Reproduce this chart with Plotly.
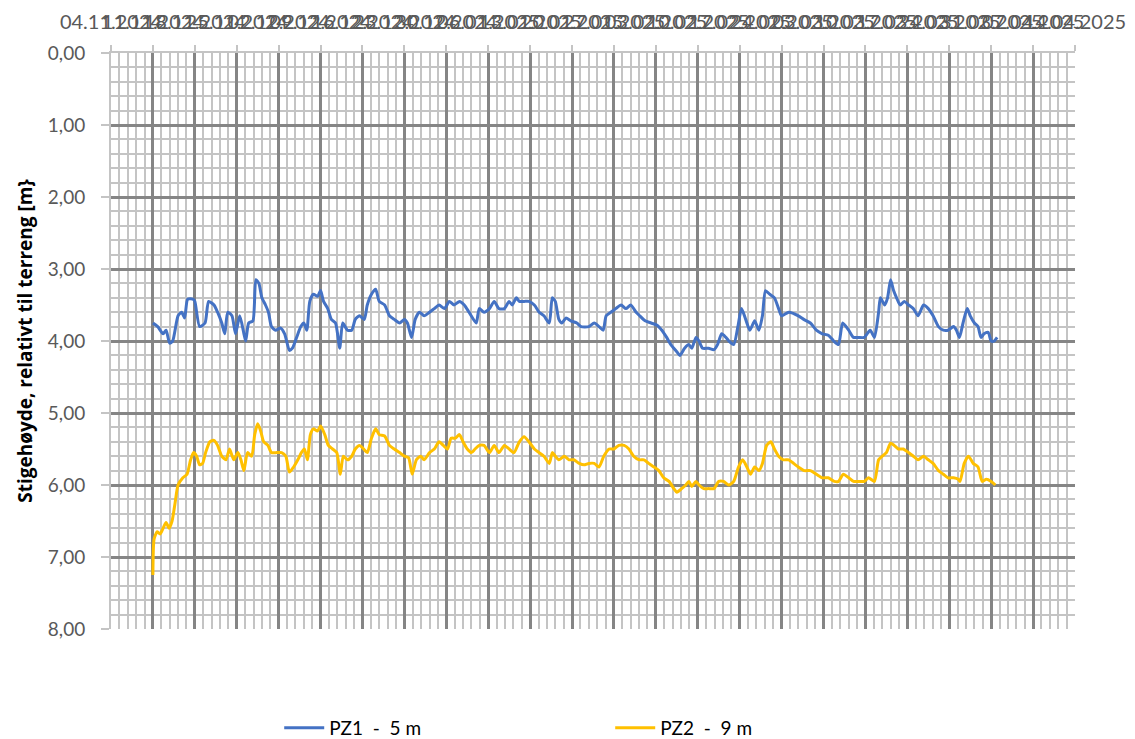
import pandas as pd
import plotly.graph_objects as go

# Measurement times as elapsed days from the first grid date (04.11.2024)
start = pd.Timestamp("2024-11-04")

pz1_days = [7.0, 7.8, 8.7, 9.2, 9.8, 10.3, 11.2, 11.8, 12.3, 12.8, 13.7, 14.0, 14.8, 15.7, 16.3, 17.2,
            17.8, 18.5, 19.0, 19.5, 20.2, 20.8, 21.5, 22.2, 22.5, 23.0, 23.7, 24.2, 24.7, 25.2, 25.8,
            26.3, 26.8, 27.5, 28.3, 29.0, 29.8, 30.3, 31.0, 31.7, 32.2, 32.7, 33.2, 33.8, 34.5, 35.0,
            35.5, 36.2, 36.8, 37.5, 38.2, 38.7, 39.5, 40.2, 40.8, 41.5, 42.3, 42.8, 43.5, 44.2, 44.8,
            45.7, 46.5, 47.3, 48.2, 49.0, 49.5, 50.2, 50.8, 51.5, 52.3, 53.2, 54.0, 54.8, 55.7, 56.5,
            57.3, 58.2, 59.0, 59.8, 61.0, 61.5, 62.3, 63.2, 64.0, 64.8, 65.7, 66.5, 67.0, 67.7, 68.2,
            69.0, 69.8, 70.7, 71.5, 72.3, 73.2, 73.7, 74.2, 74.8, 75.3, 76.0, 76.8, 77.8, 78.5, 79.8,
            80.7, 81.5, 82.2, 82.7, 83.5, 84.3, 85.2, 86.0, 86.8, 87.7, 88.3, 89.2, 90.2, 91.2, 92.0,
            92.8, 93.5, 94.5, 95.0, 95.8, 96.5, 97.0, 97.7, 98.2, 98.8, 99.8, 100.7, 101.3, 102.0,
            102.7, 103.2, 104.0, 104.7, 105.3, 106.0, 106.7, 107.5, 108.2, 108.8, 109.3, 110.0, 110.8,
            111.5, 112.0, 113.2, 114.8, 115.7, 116.8, 117.8, 118.8, 119.8, 120.7, 121.5, 122.2, 123.2,
            124.0, 124.8, 125.8, 126.8, 127.5, 128.2, 128.5, 129.2, 129.7, 130.2, 130.7, 131.2, 131.8,
            132.5, 133.2, 134.0, 134.8, 135.7, 136.5, 137.3, 138.2, 139.0, 139.8, 140.7, 141.2, 141.7,
            142.3, 143.0, 143.5, 144.2, 144.8, 145.3, 145.8, 146.5, 147.0, 147.5, 148.0]
pz1_level = [3.75, 3.8, 3.9, 3.85, 4.03, 4.0, 3.65, 3.6, 3.68, 3.42, 3.42, 3.45, 3.8, 3.75, 3.45, 3.5,
             3.6, 3.75, 3.9, 3.6, 3.65, 3.9, 3.65, 3.9, 4.0, 3.75, 3.72, 3.15, 3.2, 3.4, 3.5,
             3.6, 3.8, 3.85, 3.82, 3.9, 4.13, 4.1, 3.95, 3.8, 3.75, 3.85, 3.45, 3.35, 3.38, 3.3,
             3.45, 3.55, 3.7, 3.75, 4.1, 3.75, 3.85, 3.85, 3.7, 3.65, 3.7, 3.5, 3.35, 3.28, 3.45,
             3.5, 3.65, 3.7, 3.75, 3.7, 3.75, 3.95, 3.7, 3.6, 3.65, 3.6, 3.55, 3.5, 3.55, 3.45,
             3.5, 3.45, 3.5, 3.6, 3.75, 3.55, 3.6, 3.55, 3.45, 3.55, 3.55, 3.45, 3.5, 3.4, 3.45,
             3.45, 3.45, 3.5, 3.6, 3.65, 3.75, 3.4, 3.45, 3.7, 3.75, 3.68, 3.72, 3.75, 3.8, 3.8,
             3.75, 3.8, 3.85, 3.65, 3.6, 3.55, 3.5, 3.55, 3.5, 3.6, 3.65, 3.72, 3.75, 3.78, 3.85,
             3.95, 4.05, 4.15, 4.2, 4.1, 4.05, 4.1, 3.95, 4.0, 4.1, 4.1, 4.12, 4.05, 3.9,
             3.95, 4.0, 4.05, 3.8, 3.55, 3.7, 3.85, 3.72, 3.85, 3.65, 3.3, 3.35, 3.4,
             3.55, 3.65, 3.6, 3.65, 3.7, 3.75, 3.85, 3.9, 3.92, 4.0, 4.05, 3.75, 3.85,
             3.95, 3.95, 3.95, 3.85, 3.95, 3.6, 3.4, 3.5, 3.4, 3.15, 3.3, 3.4, 3.5,
             3.45, 3.5, 3.55, 3.65, 3.5, 3.55, 3.65, 3.8, 3.85, 3.85, 3.8, 3.85, 3.95,
             3.75, 3.55, 3.65, 3.75, 3.8, 3.95, 3.9, 3.88, 4.0, 4.0, 3.95]

pz2_days = [7.0, 7.2, 7.7, 8.2, 8.7, 9.2, 9.7, 10.2, 10.7, 11.2, 12.0, 12.7, 13.3, 13.8, 14.3, 14.8,
            15.3, 15.8, 16.5, 17.2, 17.8, 18.5, 19.2, 19.8, 20.5, 21.2, 21.7, 22.2, 22.8, 23.5, 24.0,
            24.5, 25.0, 25.5, 26.2, 26.8, 27.7, 28.5, 29.2, 29.8, 30.5, 31.2, 31.8, 32.3, 32.8, 33.3,
            33.8, 34.5, 35.0, 35.7, 36.3, 37.0, 37.7, 38.3, 38.8, 39.5, 40.2, 40.8, 41.5, 42.2, 42.8,
            43.5, 44.2, 44.8, 45.7, 46.5, 47.3, 48.2, 49.0, 49.7, 50.3, 51.0, 51.7, 52.3, 53.2, 54.0,
            54.8, 55.5, 56.2, 56.8, 57.5, 58.2, 58.8, 59.5, 60.2, 60.8, 61.5, 62.3, 63.2, 64.0, 64.8,
            65.7, 66.5, 67.3, 68.2, 69.0, 69.8, 70.7, 71.5, 72.3, 73.2, 73.7, 74.2, 74.8, 75.7, 76.5,
            77.3, 78.2, 79.0, 79.8, 80.7, 81.5, 82.3, 83.2, 84.0, 84.8, 85.7, 86.5, 87.3, 88.2, 89.0,
            89.8, 90.7, 91.5, 92.3, 93.2, 94.0, 94.5, 95.3, 96.0, 96.5, 97.0, 97.7, 98.2, 99.0, 99.8,
            100.7, 101.5, 102.3, 103.2, 104.0, 104.8, 105.5, 106.2, 106.8, 107.5, 108.2, 108.8, 109.5,
            110.2, 110.8, 111.5, 112.3, 113.2, 114.0, 114.8, 115.8, 116.8, 117.8, 118.8, 119.8, 120.8,
            121.5, 122.3, 123.2, 124.0, 124.8, 125.8, 126.5, 127.5, 128.2, 128.8, 129.5, 130.2, 130.8,
            131.5, 132.3, 133.2, 134.0, 134.8, 135.7, 136.5, 137.3, 138.2, 139.0, 139.8, 140.7, 141.5,
            141.8, 142.5, 143.2, 144.0, 144.8, 145.5, 146.2, 147.0, 147.7]
pz2_level = [7.25, 6.75, 6.65, 6.68, 6.6, 6.52, 6.6, 6.5, 6.25, 6.0, 5.9, 5.85, 5.65, 5.55, 5.6, 5.72,
             5.7, 5.55, 5.4, 5.38, 5.45, 5.6, 5.65, 5.5, 5.65, 5.55, 5.65, 5.8, 5.55, 5.6, 5.3,
             5.15, 5.25, 5.4, 5.45, 5.55, 5.55, 5.55, 5.6, 5.82, 5.75, 5.65, 5.55, 5.5, 5.65, 5.3,
             5.22, 5.25, 5.18, 5.3, 5.45, 5.5, 5.55, 5.85, 5.6, 5.65, 5.6, 5.5, 5.45, 5.5, 5.55,
             5.35, 5.22, 5.3, 5.32, 5.45, 5.5, 5.55, 5.6, 5.62, 5.85, 5.65, 5.6, 5.65, 5.55, 5.5,
             5.4, 5.45, 5.5, 5.35, 5.35, 5.3, 5.4, 5.5, 5.55, 5.5, 5.45, 5.45, 5.55, 5.45, 5.55,
             5.45, 5.5, 5.55, 5.4, 5.33, 5.4, 5.5, 5.55, 5.6, 5.7, 5.55, 5.6, 5.65, 5.6, 5.65,
             5.65, 5.7, 5.72, 5.7, 5.7, 5.75, 5.6, 5.5, 5.5, 5.45, 5.45, 5.5, 5.6, 5.65, 5.65,
             5.7, 5.75, 5.8, 5.9, 5.95, 6.05, 6.1, 6.05, 6.0, 5.95, 6.02, 5.95, 6.0, 6.05, 6.05,
             6.05, 5.95, 5.95, 6.0, 5.95, 5.75, 5.65, 5.75, 5.85, 5.75, 5.8, 5.7, 5.45,
             5.4, 5.5, 5.6, 5.65, 5.65, 5.7, 5.75, 5.8, 5.8, 5.85, 5.9, 5.9, 5.95,
             5.95, 5.85, 5.9, 5.95, 5.95, 5.95, 5.9, 5.95, 5.65, 5.6, 5.55, 5.42, 5.45,
             5.5, 5.5, 5.55, 5.6, 5.65, 5.6, 5.65, 5.7, 5.8, 5.85, 5.9, 5.9, 5.92,
             5.95, 5.7, 5.6, 5.7, 5.75, 5.95, 5.92, 5.95, 6.0]

series_names = ["PZ1  -  5 m", "PZ2  -  9 m"]
series_colors = ["#4472C4", "#FFC000"]

axis_start = start
axis_end = pd.Timestamp("2025-04-14")
y_title = "Stigehøyde, relativt til terreng [m}"

DAY_MS = 86400000
font_family = "Lato, 'Open Sans', sans-serif"
tick_color = "#595959"
major_grid = "#858585"
minor_grid = "#c4c4c4"

fig = go.Figure()
for name, color, days, level in [
    (series_names[0], series_colors[0], pz1_days, pz1_level),
    (series_names[1], series_colors[1], pz2_days, pz2_level),
]:
    fig.add_trace(go.Scatter(
        x=start + pd.to_timedelta(days, unit="D"),
        y=level,
        mode="lines",
        name=name,
        line=dict(color=color, width=3, shape="spline", smoothing=0.6),
    ))

fig.update_layout(
    width=1135,
    height=739,
    margin=dict(l=111, r=60, t=53, b=110, autoexpand=False),
    paper_bgcolor="white",
    plot_bgcolor="white",
    separators=", ",
    font=dict(family=font_family, color=tick_color, size=17),
    showlegend=True,
    legend=dict(
        orientation="h",
        xref="container", x=0.246, xanchor="left",
        yref="container", y=0.0149, yanchor="middle",
        font=dict(size=19, color="#000000"),
        entrywidth=276, entrywidthmode="pixels",
        itemwidth=40,
        bgcolor="rgba(0,0,0,0)",
    ),
)

fig.update_xaxes(
    type="date",
    side="top",
    range=[axis_start, axis_end],
    tick0=axis_start,
    dtick=7 * DAY_MS,
    tickformat="%d.%m.%Y",
    tickangle=0,
    ticks="outside",
    ticklen=6,
    tickcolor=minor_grid,
    tickwidth=1.5,
    ticklabelstandoff=8,
    showline=True,
    linecolor=minor_grid,
    linewidth=2,
    showgrid=True,
    gridcolor=major_grid,
    gridwidth=2.5,
    zeroline=False,
    tickfont=dict(size=20, color=tick_color),
    minor=dict(
        tick0=axis_start,
        dtick=7 * DAY_MS / 5,
        showgrid=True,
        gridcolor=minor_grid,
        gridwidth=1.5,
        ticks="",
    ),
)

fig.update_yaxes(
    range=[8, 0],
    dtick=1,
    tick0=0,
    tickformat=".2f",
    ticks="outside",
    ticklen=8,
    tickcolor=minor_grid,
    tickwidth=1.5,
    ticklabelstandoff=12,
    showline=True,
    linecolor=minor_grid,
    linewidth=2,
    showgrid=True,
    gridcolor=major_grid,
    gridwidth=2.5,
    zeroline=False,
    tickfont=dict(size=19, color=tick_color),
    title=dict(text=y_title,
               font=dict(size=19, color="#000000", family="'Open Sans', Lato, sans-serif", weight="bold"),
               standoff=10),
    minor=dict(
        dtick=0.2,
        showgrid=True,
        gridcolor=minor_grid,
        gridwidth=1.5,
        ticks="",
    ),
)

fig.write_html("out.html")
